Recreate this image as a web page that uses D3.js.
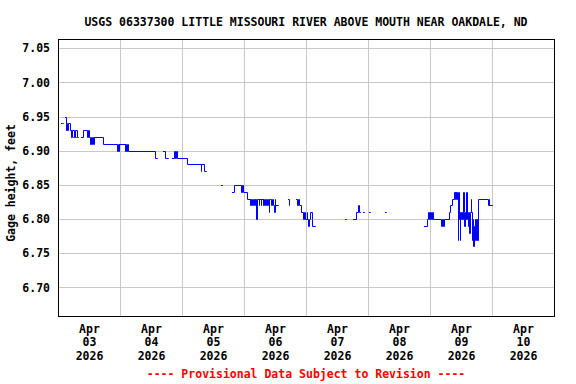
<!DOCTYPE html>
<html>
<head>
<meta charset="utf-8">
<script src="https://cdn.jsdelivr.net/npm/d3@7/dist/d3.min.js"></script>
<style>
  html, body { margin: 0; padding: 0; background: #fff; }
  svg { display: block; }
  text { font-family: "DejaVu Sans Mono", "Liberation Mono", monospace; font-weight: bold; font-size: 11.5px; fill: #000; }
</style>
</head>
<body>
<svg id="chart" width="576" height="384"></svg>
<script>
// ---- data (hours since 2026-04-03 00:00; null marks start of a gap) ----
const title = "USGS 06337300 LITTLE MISSOURI RIVER ABOVE MOUTH NEAR OAKDALE, ND";
const yLabel = "Gage height, feet";
const footnote = "---- Provisional Data Subject to Revision ----";
const yTicks = [6.70, 6.75, 6.80, 6.85, 6.90, 6.95, 7.00, 7.05];
const dayLabels = [["Apr","03","2026"],["Apr","04","2026"],["Apr","05","2026"],["Apr","06","2026"],
                   ["Apr","07","2026"],["Apr","08","2026"],["Apr","09","2026"],["Apr","10","2026"]];
const hours = [
  1.25,1.5,1.75,
  2.75,3.0,3.25,3.5,3.75,4.6,5.0,5.15,5.4,5.65,5.8,6.05,6.3,6.45,6.7,6.95,7.1,7.35,7.6,
  8.9,9.5,11.35,11.6,12.0,12.4,12.75,13.0,13.5,13.75,14.0,17.4,22.85,23.1,23.5,23.75,
  25.8,26.05,26.4,26.65,27.0,37.5,38.25,
  40.6,41.5,42.5,
  44.25,44.9,45.3,45.55,45.9,50.05,55.2,55.45,56.4,57.1,
  63.1,63.6,
  67.35,68.0,71.0,71.25,71.5,73.3,74.2,74.45,74.8,75.05,75.5,75.75,76.1,76.35,76.75,77.0,
  77.7,77.95,78.5,78.75,79.2,79.45,79.9,80.15,80.6,80.85,81.3,81.6,81.85,82.6,82.85,
  83.25,83.6,83.85,84.1,85.2,
  89.0,89.25,89.6,
  92.25,92.65,92.9,93.2,94.2,94.8,95.1,95.8,96.2,96.5,96.9,97.2,97.5,98.2,98.5,99.35,
  111.2,111.5,
  114.2,115.5,116.1,116.35,116.8,
  118.05,118.3,
  120.4,120.65,
  126.7,126.95,
  141.7,143.0,143.35,143.75,144.0,144.4,144.7,145.0,148.4,148.65,148.9,149.4,151.2,151.9,152.6,
  153.25,153.5,153.75,154.0,154.25,154.5,154.75,155.0,155.25,155.5,155.75,156.0,156.25,156.5,
  156.75,157.0,157.25,157.5,157.75,158.0,158.25,158.5,158.75,159.0,159.25,159.5,159.75,160.0,
  160.25,160.5,160.75,161.0,161.25,161.5,161.75,162.0,162.25,162.5,162.75,166.5,166.75,167.0,168.0
];
const gage = [
  6.94,6.94,null,
  6.95,6.93,6.94,6.93,6.94,6.93,6.92,6.93,6.92,null,6.93,6.92,null,6.93,6.92,null,6.93,6.92,null,
  6.92,6.93,6.92,6.93,6.92,6.91,6.92,6.91,6.92,6.91,6.92,6.91,6.90,6.91,6.90,6.91,
  6.90,6.91,6.90,6.91,6.90,6.89,null,
  6.90,6.89,null,
  6.89,6.90,6.89,6.90,6.89,6.88,6.87,6.88,6.87,null,
  6.85,null,
  6.84,6.85,6.84,6.85,6.84,6.83,6.82,6.83,6.82,6.83,6.82,6.83,6.82,6.83,6.80,6.83,
  6.82,6.83,6.82,6.83,6.82,6.83,6.82,6.83,6.82,6.83,6.82,6.81,6.83,6.82,6.83,
  6.82,6.81,6.83,6.82,null,
  6.83,6.82,null,
  6.83,6.82,6.83,6.82,6.81,6.80,6.81,6.80,6.81,6.80,6.79,6.80,6.81,6.80,6.79,null,
  6.80,null,
  6.80,6.81,6.82,6.81,null,
  6.81,null,
  6.81,null,
  6.81,null,
  6.79,6.80,6.81,6.80,6.81,6.80,6.81,6.80,6.79,6.80,6.79,6.80,6.81,6.82,6.83,
  6.84,6.83,6.84,6.83,6.84,6.83,6.77,6.84,6.80,6.77,6.81,6.80,6.81,6.80,
  6.84,6.81,6.79,6.81,6.80,6.84,6.80,6.81,6.79,6.81,6.78,6.81,6.83,6.81,
  6.77,6.80,6.76,6.79,6.80,6.77,6.80,6.77,6.80,6.77,6.83,6.82,6.83,6.82,null
];

// ---- layout ----
const svg = d3.select("#chart");
const L = 58, R = 554, T = 39, B = 316;
const t0 = Date.UTC(2026, 3, 3);
const toDate = h => new Date(t0 + h * 3600e3);

const x = d3.scaleUtc().domain([new Date(t0), new Date(Date.UTC(2026, 3, 11))]).range([L, R]);
const y = d3.scaleLinear().domain([6.658, 7.0636]).range([B, T]);

// title
svg.append("text").attr("x", (L + R) / 2).attr("y", 26).attr("text-anchor", "middle").text(title);

// horizontal grid + y tick labels
const yAxis = svg.append("g").attr("transform", `translate(${L},0)`)
  .call(d3.axisLeft(y).tickValues(yTicks).tickFormat(d3.format(".2f")).tickSize(-(R - L)).tickPadding(8));
yAxis.select(".domain").remove();
yAxis.selectAll(".tick line").attr("stroke", "#c8c8c8").attr("shape-rendering", "crispEdges");
yAxis.selectAll(".tick text").attr("font-family", null).attr("font-size", null).attr("fill", "#000");

// vertical grid at midnights
const midnights = d3.utcDay.range(toDate(24), toDate(192));
svg.append("g").selectAll("line").data(midnights).join("line")
  .attr("x1", d => Math.round(x(d)) + 0.5).attr("x2", d => Math.round(x(d)) + 0.5)
  .attr("y1", T).attr("y2", B)
  .attr("stroke", "#c8c8c8").attr("shape-rendering", "crispEdges");

// x labels at noon of each day
const noons = dayLabels.map((d, i) => toDate(i * 24 + 12));
const xAxis = svg.append("g").attr("transform", `translate(0,${B})`)
  .call(d3.axisBottom(x).tickValues(noons).tickSize(0).tickFormat(""));
xAxis.select(".domain").remove();
xAxis.selectAll(".tick text").each(function(d, i) {
  const t = d3.select(this).attr("y", null).attr("dy", null)
    .attr("font-family", null).attr("font-size", null).attr("fill", "#000");
  dayLabels[i].forEach((s, k) => {
    t.append("tspan").attr("x", 0).attr("y", 17 + k * 13.3).text(s);
  });
});

// data line (step, each reading held until the next time entry)
const pts = [];
for (let i = 0; i < hours.length; i++) {
  if (gage[i] == null) { pts.push(null); continue; }
  pts.push({ t: toDate(hours[i]), v: gage[i] });
  if (i + 1 < hours.length && gage[i + 1] == null) pts.push({ t: toDate(hours[i + 1]), v: gage[i] });
}
const line = d3.line().defined(d => d != null)
  .x(d => Math.round(x(d.t)) + 0.5).y(d => Math.round(y(d.v)) + 0.5)
  .curve(d3.curveStepAfter);
svg.append("path").datum(pts).attr("d", line)
  .attr("fill", "none").attr("stroke", "#0000ff").attr("stroke-width", 1)
  .attr("stroke-linecap", "square");

// frame
svg.append("rect").attr("x", L + 0.5).attr("y", T + 0.5).attr("width", R - L).attr("height", B - T)
  .attr("fill", "none").attr("stroke", "#000").attr("stroke-width", 1.2).attr("shape-rendering", "crispEdges");

// y label
svg.append("text").attr("transform", `translate(15,183) rotate(-90)`).attr("text-anchor", "middle").text(yLabel);

// footnote
svg.append("text").attr("x", (L + R) / 2).attr("y", 378).attr("text-anchor", "middle")
  .style("fill", "#ff0000").text(footnote);
</script>
</body>
</html>
